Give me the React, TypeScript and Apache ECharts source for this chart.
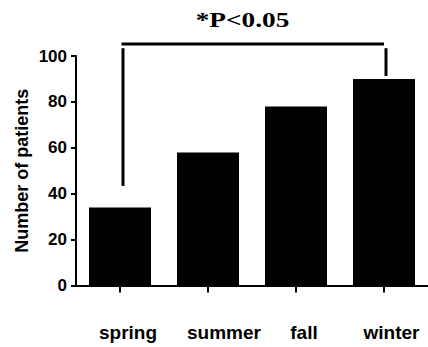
import React, { useEffect, useRef } from "react";
import * as echarts from "echarts";

const categories = ["spring", "summer", "fall", "winter"];
const patients = [34, 58, 78, 90];
const yMin = 0;
const yMax = 100;
const yInterval = 20;
// significance bracket (value units): stem bottoms for first/last category, top of stems, bar line level
const bracketStemBottoms = [43.4, 91.3];
const bracketStemTop = 103.4;
const bracketLevel = 105.2;
const titleText = "*P<0.05";
const yAxisTitle = "Number of patients";
const labelShift = [16, 32, 16, 15];

export default function App() {
  const ref = useRef<HTMLDivElement>(null);
  useEffect(() => {
    if (!ref.current) return;
    const chart = echarts.init(ref.current, undefined, { renderer: "svg" });
    const rich: Record<string, any> = {};
    categories.forEach((c, i) => {
      rich["c" + i] = {
        fontFamily: "Liberation Sans, Arial, sans-serif",
        fontWeight: "bold",
        fontSize: 19,
        color: "#000",
        padding: [0, 0, 0, labelShift[i]],
      };
    });
    chart.setOption({
      animation: false,
      backgroundColor: "#fff",
      grid: { left: 76, top: 56, width: 354.7, height: 229.5, containLabel: false },
      graphic: [
        {
          type: "text",
          x: 242.5,
          y: 20,
          scaleX: 1.3,
          style: {
            text: titleText,
            fontFamily: "Liberation Serif, Times New Roman, serif",
            fontWeight: "bold",
            fontSize: 21,
            fill: "#000",
            align: "center",
            verticalAlign: "middle",
          },
        },
      ],
      xAxis: {
        type: "category",
        data: categories,
        axisLine: { show: true, lineStyle: { color: "#000", width: 2 } },
        axisTick: { show: true, alignWithLabel: true, length: 7, lineStyle: { color: "#000", width: 2 } },
        axisLabel: {
          interval: 0,
          margin: 37,
          formatter: (v: string) => {
            const i = categories.indexOf(v);
            return "{c" + i + "|" + v + "}";
          },
          rich,
        },
        splitLine: { show: false },
      },
      yAxis: {
        type: "value",
        min: yMin,
        max: yMax,
        interval: yInterval,
        name: yAxisTitle,
        nameLocation: "middle",
        nameGap: 45,
        nameMoveOverlap: false,
        nameRotate: 90,
        nameTextStyle: {
          fontFamily: "Liberation Sans, Arial, sans-serif",
          fontWeight: "bold",
          fontSize: 18,
          color: "#000",
        },
        axisLine: { show: true, lineStyle: { color: "#000", width: 2 } },
        axisTick: { show: true, length: 5, lineStyle: { color: "#000", width: 2 } },
        axisLabel: {
          margin: 9,
          fontFamily: "Liberation Sans, Arial, sans-serif",
          fontWeight: "bold",
          fontSize: 17,
          color: "#000",
        },
        splitLine: { show: false },
      },
      series: [
        {
          type: "bar",
          data: patients,
          barWidth: 62,
          itemStyle: { color: "#000" },
        },
        {
          type: "custom",
          clip: false,
          data: [[0, 3]],
          renderItem: (params: any, api: any) => {
            const iA = 0;
            const iB = categories.length - 1;
            const pA0 = api.coord([iA, bracketStemBottoms[0]]);
            const pA1 = api.coord([iA, bracketStemTop]);
            const pB0 = api.coord([iB, bracketStemBottoms[1]]);
            const pB1 = api.coord([iB, bracketStemTop]);
            const yTop = api.coord([iA, bracketLevel])[1];
            const xA = pA0[0] + 3;
            const xB = pB0[0] + 2;
            const style = { stroke: "#000", lineWidth: 3 };
            return {
              type: "group",
              children: [
                { type: "line", shape: { x1: xA, y1: pA0[1], x2: xA, y2: pA1[1] }, style },
                { type: "line", shape: { x1: xB, y1: pB0[1], x2: xB, y2: pB1[1] }, style },
                { type: "line", shape: { x1: xA - 1.5, y1: yTop, x2: xB - 2, y2: yTop }, style },
              ],
            };
          },
        },
      ],
    });
    return () => chart.dispose();
  }, []);
  return (
    <div
      ref={ref}
      style={{ position: "fixed", left: 0, top: 0, width: 428, height: 347, background: "#fff" }}
    />
  );
}
